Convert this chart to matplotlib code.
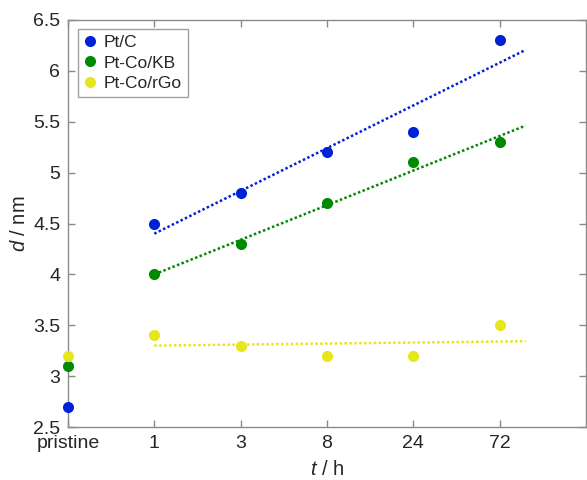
import numpy as np
import matplotlib
matplotlib.use('Agg')
import matplotlib.pyplot as plt
from matplotlib.ticker import FuncFormatter

plt.rcParams['font.family'] = ['Liberation Sans', 'DejaVu Sans']
plt.rcParams['mathtext.fontset'] = 'custom'
plt.rcParams['mathtext.it'] = 'Liberation Sans:italic'
plt.rcParams['mathtext.rm'] = 'Liberation Sans'

# sampling times (pristine + hours), plotted on an evenly spaced index axis
time_labels = ['pristine', '1', '3', '8', '24', '72']
x_pos = np.arange(len(time_labels))

# particle size d / nm for each catalyst
d_ptc = [2.7, 4.5, 4.8, 5.2, 5.4, 6.3]
d_ptco_kb = [3.1, 4.0, 4.3, 4.7, 5.1, 5.3]
d_ptco_rgo = [3.2, 3.4, 3.3, 3.2, 3.2, 3.5]

series = [
    ('Pt/C', d_ptc, '#0022d6'),
    ('Pt-Co/KB', d_ptco_kb, '#008a00'),
    ('Pt-Co/rGo', d_ptco_rgo, '#e6e61c'),
]

fit_end = 5.3   # trend lines run a bit past the last point

fig = plt.figure(figsize=(5.87, 4.80), dpi=100)
ax = fig.add_axes([68 / 587, 1 - 427 / 480, (586 - 68) / 587, (427 - 20) / 480])

for name, d, col in series:
    ax.plot(x_pos, d, 'o', color=col, markersize=8, markeredgewidth=0,
            label=name, clip_on=False, zorder=3)
    # linear fit over the aged samples only (skip pristine)
    k, b = np.polyfit(x_pos[1:], d[1:], 1)
    xf = np.array([x_pos[1], fit_end])
    ax.plot(xf, k * xf + b, color=col, lw=1.8, dashes=(1, 0.95), zorder=2)

ax.set_xlim(0, 6)
ax.set_ylim(2.5, 6.5)
ax.set_xticks(x_pos)
ax.set_xticklabels(time_labels)
ax.set_yticks(np.arange(2.5, 6.51, 0.5))
ax.yaxis.set_major_formatter(FuncFormatter(lambda v, p: '%g' % v))

axis_col = '#8a8a8a'
text_col = '#262626'
for s in ax.spines.values():
    s.set_color(axis_col)
    s.set_linewidth(1.0)
ax.tick_params(direction='in', length=5, width=1.0, color=axis_col,
               labelcolor=text_col, labelsize=14, top=True, right=True)
ax.tick_params(axis='y', pad=5.5)
ax.tick_params(axis='x', pad=6)

ax.set_xlabel(r'$t$ / h', fontsize=14.5, color=text_col)
ax.set_ylabel(r'$d$ / nm', fontsize=14.5, color=text_col)
ax.xaxis.set_label_coords(0.5, -0.08)
ax.yaxis.set_label_coords(-0.076, 0.5)

leg = ax.legend(loc='upper left', bbox_to_anchor=(0.019, 0.978), fontsize=12.5,
                frameon=True, fancybox=False, borderpad=0.35, handlelength=0.7,
                handletextpad=0.45, labelspacing=0.3, borderaxespad=0)
leg.get_frame().set_edgecolor(axis_col)
leg.get_frame().set_linewidth(1.0)
for t in leg.get_texts():
    t.set_color(text_col)

fig.savefig('out.png', dpi=100)
